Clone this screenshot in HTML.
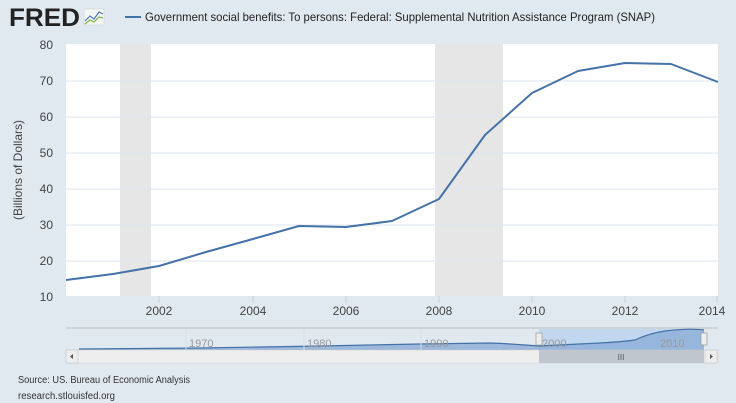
<!DOCTYPE html>
<html><head><meta charset="utf-8"><style>
html,body{margin:0;padding:0;background:#e1e9f0;}
svg{display:block;font-family:"Liberation Sans",sans-serif;}
</style></head><body>
<svg width="736" height="403" viewBox="0 0 736 403" xmlns="http://www.w3.org/2000/svg">
<rect width="736" height="403" fill="#e1e9f0"/>
<!-- logo -->
<text x="9" y="26" font-size="25" font-weight="bold" fill="#222" textLength="71" lengthAdjust="spacingAndGlyphs">FRED</text>
<rect x="84" y="9" width="20" height="16" fill="#f4f6f4" stroke="#ccc" stroke-width="0.5"/>
<polyline points="85,21 90,16 94,19 99,12 103,14" fill="none" stroke="#4a7bbf" stroke-width="1.2"/>
<polyline points="85,24 90,20 94,22 99,17 103,18" fill="none" stroke="#7ab648" stroke-width="1.2"/>
<!-- legend -->
<line x1="125" y1="17" x2="141" y2="17" stroke="#4572a7" stroke-width="2"/>
<text x="145" y="21" font-size="12" fill="#222" textLength="510" lengthAdjust="spacingAndGlyphs">Government social benefits: To persons: Federal: Supplemental Nutrition Assistance Program (SNAP)</text>
<!-- plot -->
<rect x="66" y="44" width="652" height="252" fill="#fff"/>
<rect x="120" y="44" width="31" height="252" fill="#e6e6e6"/>
<rect x="435" y="44" width="68" height="252" fill="#e6e6e6"/>
<g stroke="#dde4ec" stroke-width="1">
<line x1="66" y1="81" x2="718" y2="81"/><line x1="66" y1="117" x2="718" y2="117"/>
<line x1="66" y1="153" x2="718" y2="153"/><line x1="66" y1="189" x2="718" y2="189"/>
<line x1="66" y1="225" x2="718" y2="225"/><line x1="66" y1="261" x2="718" y2="261"/>
</g>
<g font-size="12" fill="#444" text-anchor="end">
<text x="53" y="49">80</text><text x="53" y="85">70</text><text x="53" y="121">60</text>
<text x="53" y="157">50</text><text x="53" y="193">40</text><text x="53" y="229">30</text>
<text x="53" y="265">20</text><text x="53" y="301">10</text>
</g>
<text transform="translate(22,170) rotate(-90)" font-size="12" fill="#444" text-anchor="middle">(Billions of Dollars)</text>
<g stroke="#c8d3df"><line x1="159" y1="296" x2="159" y2="303"/><line x1="253" y1="296" x2="253" y2="303"/><line x1="346" y1="296" x2="346" y2="303"/><line x1="439" y1="296" x2="439" y2="303"/><line x1="532" y1="296" x2="532" y2="303"/><line x1="625" y1="296" x2="625" y2="303"/><line x1="717" y1="296" x2="717" y2="303"/></g>
<g font-size="12" fill="#444" text-anchor="middle">
<text x="159" y="315">2002</text><text x="253" y="315">2004</text><text x="346" y="315">2006</text>
<text x="439" y="315">2008</text><text x="532" y="315">2010</text><text x="625" y="315">2012</text><text x="712" y="315">2014</text>
</g>
<polyline fill="none" stroke="#4572a7" stroke-width="2" stroke-linejoin="round"
points="66,280 113,274 159,266 206,252 253,239 299,226 346,227 392,221 439,199 485,135 532,93 578,71 625,63 671,64 718,82"/>
<!-- navigator -->
<line x1="66" y1="328" x2="718" y2="328" stroke="#c8ccd0" stroke-width="1.5"/>
<rect x="539" y="329" width="165" height="21" fill="#c0d7ef"/>
<path d="M79,349 L200,348 L320,346 L420,344 L490,343 Q515,344 539,346 L600,343 Q620,342 635,340 Q650,333 665,331 Q690,328 704,330 L704,350 L79,350Z" fill="#8fb0d8" opacity="0.85"/>
<path fill="none" stroke="#4572a7" stroke-width="1.2" d="M79,349 L200,348 L320,346 L420,344 L490,343 Q515,344 539,346 L600,343 Q620,342 635,340 Q650,333 665,331 Q690,328 704,330"/>
<g stroke="#d6dde5"><line x1="186" y1="329" x2="186" y2="350"/><line x1="304" y1="329" x2="304" y2="350"/><line x1="421" y1="329" x2="421" y2="350"/></g>
<g font-size="11" fill="#999"><text x="189" y="347">1970</text><text x="307" y="347">1980</text><text x="424" y="347">1990</text><text x="542" y="347">2000</text><text x="660" y="347">2010</text></g>
<rect x="536" y="333" width="6" height="12" fill="#eee" stroke="#999" stroke-width="0.7"/>
<rect x="701" y="333" width="6" height="12" fill="#eee" stroke="#999" stroke-width="0.7"/>
<rect x="66" y="350" width="652" height="13" fill="#eeeeee" stroke="#ccc" stroke-width="0.5"/>
<rect x="539" y="350" width="165" height="13" fill="#bfc6ce"/>
<text x="621" y="360" font-size="8" fill="#555" text-anchor="middle">III</text>
<rect x="66" y="350" width="12" height="13" fill="#eee" stroke="#bbb" stroke-width="0.5"/>
<path d="M73,354 L70,356.5 L73,359Z" fill="#555"/>
<rect x="705" y="350" width="12" height="13" fill="#eee" stroke="#bbb" stroke-width="0.5"/>
<path d="M710,354 L713,356.5 L710,359Z" fill="#555"/>
<!-- footer -->
<text x="18" y="383" font-size="10" fill="#333" textLength="172" lengthAdjust="spacingAndGlyphs">Source: US. Bureau of Economic Analysis</text>
<text x="18" y="399" font-size="10" fill="#333" textLength="97" lengthAdjust="spacingAndGlyphs">research.stlouisfed.org</text>
</svg>
</body></html>
